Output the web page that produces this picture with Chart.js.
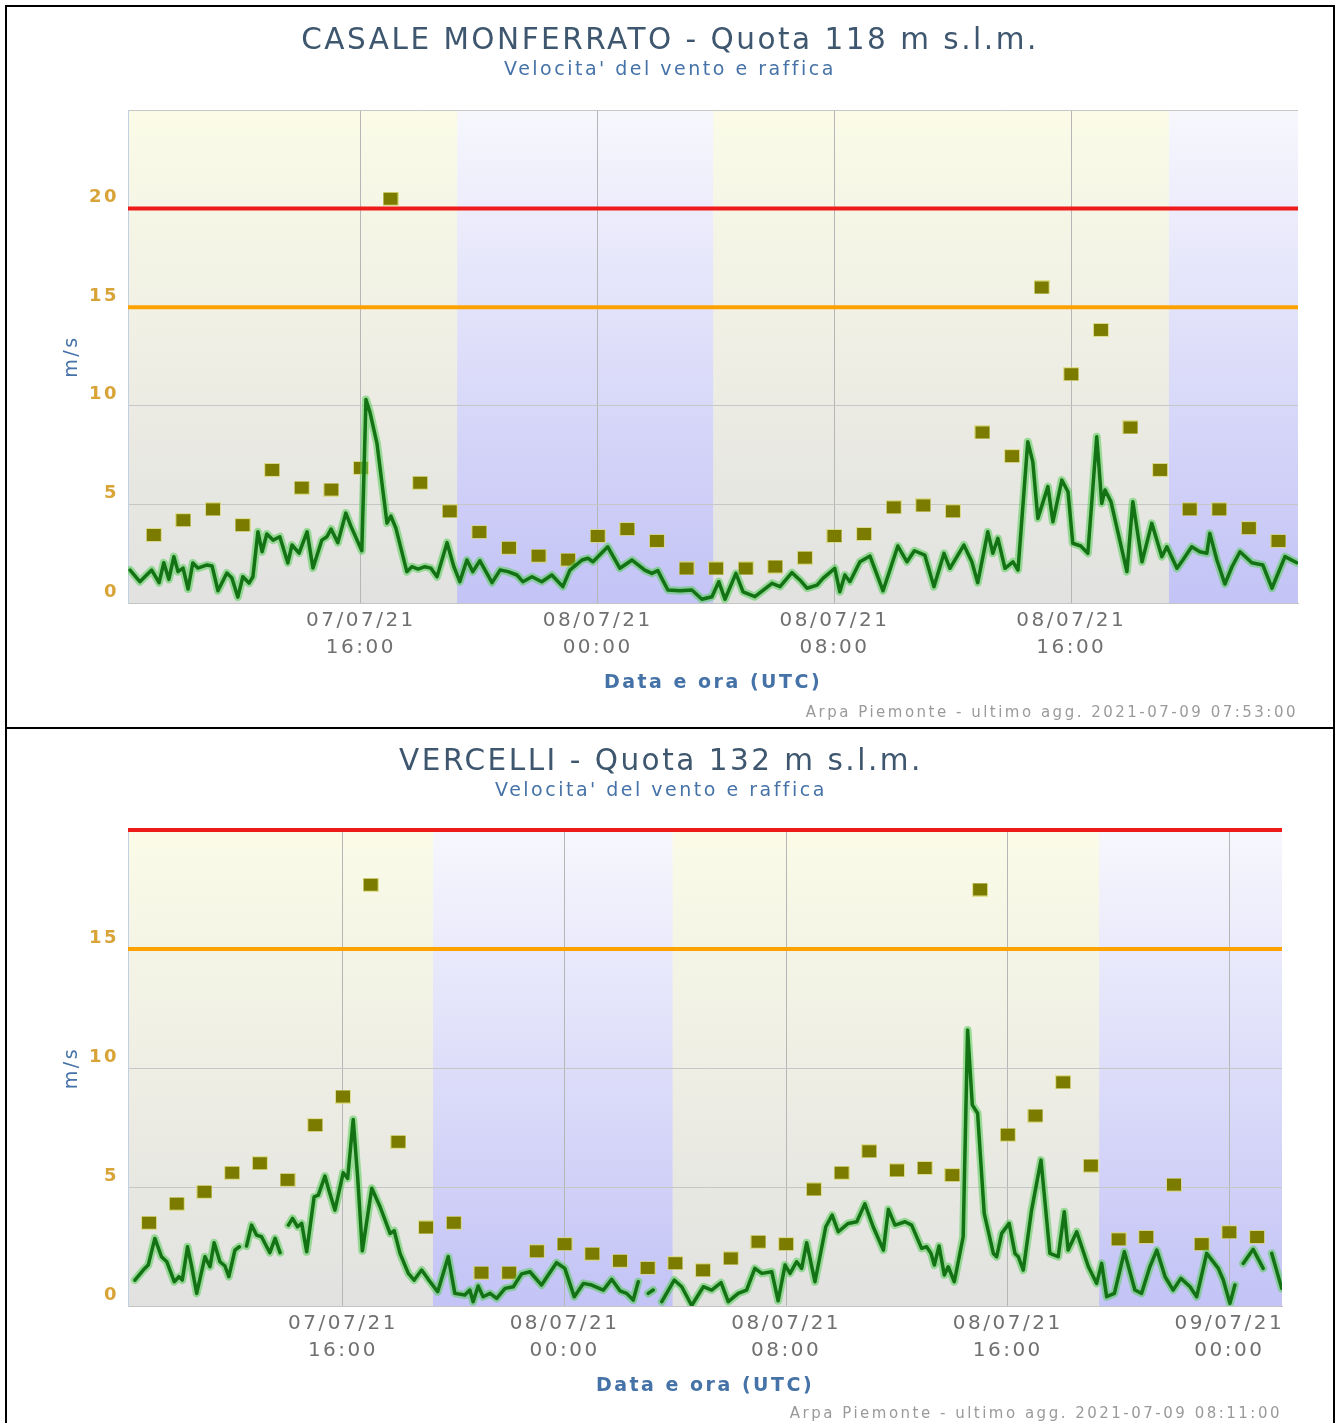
<!DOCTYPE html>
<html>
<head>
<meta charset="utf-8">
<title>Velocita' del vento e raffica</title>
<script src="https://cdn.jsdelivr.net/npm/chart.js@4.4.0/dist/chart.umd.min.js"></script>
<style>
  body { margin: 0; background: #fff; }
  #frame { position: absolute; left: 5px; top: 5px; width: 1326px; border: 2px solid #000; }
  .cell { position: relative; width: 1326px; height: 720px; }
  .cell + .cell { border-top: 2px solid #000; }
  canvas { display: block; }
</style>
</head>
<body>
<div id="frame">
  <div class="cell"><canvas id="casale" width="1326" height="720"></canvas></div>
  <div class="cell"><canvas id="vercelli" width="1326" height="720"></canvas></div>
</div>
<script>
// all times are hours counted from 07/07/21 00:00 UTC

// soglie (m/s): rossa e arancione
const thresholds = [20, 15];

// ---- CASALE MONFERRATO ----
const casaleGustHours = [9, 10, 11, 12, 13, 14, 15, 16, 17, 18, 19, 20, 21, 22, 23, 24, 25, 26, 27, 28,
  29, 30, 31, 32, 33, 34, 35, 36, 37, 38, 39, 40, 41, 42, 43, 44, 45, 46, 47];
const casaleGust = [3.45, 4.2, 4.75, 3.95, 6.75, 5.85, 5.75, 6.85, 20.5, 6.1, 4.65, 3.6, 2.8, 2.4, 2.2, 3.4, 3.75, 3.15, 1.75, 1.75,
  1.75, 1.85, 2.3, 3.4, 3.5, 4.85, 4.95, 4.65, 8.65, 7.45, 16.0, 11.6, 13.85, 8.9, 6.75, 4.75, 4.75, 3.8, 3.15];

const casaleWindHours = [8.20, 8.53, 8.93, 9.18, 9.34, 9.51, 9.68, 9.82, 9.99, 10.16, 10.32, 10.49, 10.80, 10.97, 11.17, 11.47,
  11.64, 11.84, 12.01, 12.22, 12.35, 12.52, 12.66, 12.82, 13.03, 13.26, 13.53, 13.67, 13.91, 14.18, 14.38, 14.68, 14.85,
  14.99, 15.22, 15.49, 15.66, 16.03, 16.17, 16.30, 16.54, 16.88, 17.01, 17.18, 17.55, 17.72, 17.93, 18.16, 18.36, 18.57,
  18.91, 19.14, 19.34, 19.58, 19.78, 20.02, 20.43, 20.70, 20.97, 21.27, 21.47, 21.78, 22.11, 22.45, 22.82, 23.06, 23.47,
  23.67, 23.84, 24.34, 24.75, 25.16, 25.59, 25.83, 26.03, 26.37, 26.78, 27.18, 27.52, 27.86, 28.09, 28.30, 28.67, 28.91,
  29.31, 29.89, 30.16, 30.56, 30.83, 31.07, 31.41, 31.61, 32.01, 32.18, 32.35, 32.52, 32.86, 33.20, 33.64, 34.14, 34.45,
  34.70, 35.05, 35.36, 35.70, 35.90, 36.37, 36.64, 36.84, 37.18, 37.35, 37.52, 37.76, 38.03, 38.20, 38.53, 38.70, 38.87,
  39.21, 39.38, 39.68, 39.89, 40.05, 40.32, 40.56, 40.86, 41.03, 41.14, 41.34, 41.88, 42.08, 42.39, 42.72, 43.06, 43.23,
  43.57, 43.77, 44.07, 44.34, 44.58, 44.68, 44.92, 45.19, 45.43, 45.70, 46.10, 46.47, 46.78, 47.22, 47.62];
const casaleWind = [1.67, 1.08, 1.67, 1.03, 2.04, 1.20, 2.35, 1.59, 1.77, 0.71, 2.03, 1.77, 1.93, 1.88, 0.62, 1.52,
  1.27, 0.30, 1.33, 1.01, 1.33, 3.61, 2.60, 3.50, 3.19, 3.36, 2.03, 2.94, 2.53, 3.61, 1.77, 3.19, 3.36,
  3.75, 3.06, 4.56, 3.90, 2.65, 10.32, 9.70, 8.11, 4.05, 4.41, 3.80, 1.59, 1.84, 1.72, 1.84, 1.77, 1.33,
  3.06, 1.84, 1.08, 2.18, 1.59, 2.14, 1.03, 1.67, 1.59, 1.42, 1.08, 1.33, 1.08, 1.42, 0.83, 1.67, 2.18,
  2.27, 2.09, 2.85, 1.76, 2.18, 1.67, 1.50, 1.64, 0.66, 0.62, 0.66, 0.19, 0.32, 1.08, 0.19, 1.50, 0.57,
  0.32, 1.00, 0.83, 1.54, 1.17, 0.75, 0.91, 1.25, 1.76, 0.57, 1.42, 1.08, 2.09, 2.38, 0.62, 2.89, 2.09,
  2.65, 2.43, 0.83, 2.52, 1.76, 2.94, 2.09, 1.03, 3.61, 2.52, 3.28, 1.76, 2.09, 1.67, 8.18, 7.16, 4.29,
  5.90, 4.12, 6.23, 5.64, 3.03, 2.89, 2.52, 8.43, 5.05, 5.73, 5.14, 1.59, 5.14, 2.09, 4.04, 2.35, 2.85,
  1.76, 2.18, 2.85, 2.60, 2.52, 3.53, 2.18, 0.96, 1.84, 2.60, 2.04, 1.93, 0.75, 2.35, 2.04];

const casaleNight = [[19.25, 27.9], [43.3, 48]];
const casaleXTicks = [16, 24, 32, 40];
const casaleXLabels = [['07/07/21', '16:00'], ['08/07/21', '00:00'], ['08/07/21', '08:00'], ['08/07/21', '16:00']];
const casaleYTicks = [0, 5, 10, 15, 20, 25];
const casaleYLabels = ['0', '5', '10', '15', '20', ''];

// ---- VERCELLI ----
const vercelliGustHours = [9, 10, 11, 12, 13, 14, 15, 16, 17, 18, 19, 20, 21, 22, 23, 24, 25, 26, 27, 28, 29,
  30, 31, 32, 33, 34, 35, 36, 37, 38, 39, 40, 41, 42, 43, 44, 45, 46, 47, 48, 49];
const vercelliGust = [3.5, 4.3, 4.8, 5.6, 6.0, 5.3, 7.6, 8.8, 17.7, 6.9, 3.3, 3.5, 1.4, 1.4, 2.3, 2.6, 2.2, 1.9, 1.6, 1.8, 1.5,
  2.0, 2.7, 2.6, 4.9, 5.6, 6.5, 5.7, 5.8, 5.5, 17.5, 7.2, 8.0, 9.4, 5.9, 2.8, 2.9, 5.1, 2.6, 3.1, 2.9];

// null = dato mancante (buco nella linea)
const vercelliWindHours = [8.49, 8.79, 8.97, 9.21, 9.45, 9.64, 9.91, 10.08, 10.20, 10.39, 10.54, 10.72, 11.02, 11.20,
  11.35, 11.56, 11.74, 11.88, 12.10, 12.26, 12.40, 12.52, 12.70, 12.88, 13.06, 13.36, 13.55, 13.73, 13.88, 14.03, 14.18,
  14.36, 14.51, 14.69, 14.96, 15.11, 15.35, 15.49, 15.71, 16.01, 16.17, 16.37, 16.53, 16.70, 17.04, 17.34, 17.70, 17.85,
  18.06, 18.36, 18.57, 18.84, 19.08, 19.42, 19.80, 20.04, 20.40, 20.58, 20.70, 20.88, 21.06, 21.31, 21.55, 21.85, 22.15,
  22.45, 22.75, 23.17, 23.41, 23.71, 24.01, 24.35, 24.68, 24.98, 25.40, 25.70, 26.00, 26.24, 26.48, 26.66, 26.85, 27.02,
  27.20, 27.35, 27.51, 27.96, 28.23, 28.59, 29.01, 29.31, 29.65, 29.91, 30.27, 30.57, 30.87, 31.12, 31.48, 31.71, 31.96,
  32.14, 32.38, 32.56, 32.74, 33.04, 33.43, 33.66, 33.88, 34.24, 34.55, 34.84, 35.14, 35.51, 35.69, 35.93, 36.29, 36.53,
  36.89, 37.07, 37.23, 37.35, 37.52, 37.71, 37.85, 38.07, 38.39, 38.55, 38.72, 38.91, 39.15, 39.48, 39.60, 39.78, 40.05,
  40.26, 40.38, 40.56, 40.86, 41.20, 41.52, 41.82, 42.04, 42.18, 42.49, 42.91, 43.21, 43.39, 43.57, 43.85, 44.21, 44.59,
  44.83, 45.13, 45.38, 45.68, 45.97, 46.25, 46.58, 46.82, 47.18, 47.60, 47.78, 48.02, 48.20, 48.35, 48.50, 48.86, 49.22,
  49.38, 49.53, 49.89];
const vercelliWind = [1.09, 1.51, 1.72, 2.84, 2.07, 1.86, 1.02, 1.23, 1.09, 2.49, 1.65, 0.53, 2.07, 1.65,
  2.66, 1.86, 1.68, 1.23, 2.35, 2.49, null, 2.52, 3.40, 2.98, 2.91, 2.24, 2.84, 2.24, null, 3.40, 3.68,
  3.33, 3.47, 2.28, 4.59, 4.66, 5.46, 4.87, 4.03, 5.60, 5.36, 7.84, 5.43, 2.32, 4.95, 4.17, 3.05, 3.16,
  2.21, 1.37, 1.09, 1.51, 1.12, 0.60, 2.07, 0.53, 0.46, 0.67, 0.18, 0.84, 0.39, 0.53, 0.32, 0.74, 0.81,
  1.35, 1.44, 0.88, 1.30, 1.82, 1.58, 0.39, 0.95, 0.88, 0.67, 1.12, 0.64, 0.53, 0.25, 1.02, null, 0.53,
  0.67, null, 0.18, 1.09, 0.81, 0.02, 0.81, 0.67, 0.98, 0.18, 0.53, 0.67, 1.58, 1.37, 1.44, 0.22, 1.72,
  1.37, 1.86, 1.58, 2.66, 1.02, 3.33, 3.82, 3.12, 3.47, 3.54, 4.29, 3.33, 2.35, 4.06, 3.40, 3.54, 3.40,
  2.42, 2.49, 2.21, 1.72, 2.52, 1.30, 1.65, 1.02, 2.91, 11.60, 8.45, 8.10, 3.89, 2.21, 2.07, 3.05, 3.47,
  2.21, 2.07, 1.51, 4.03, 6.13, 2.21, 2.07, 3.96, 2.35, 3.12, 1.65, 0.95, 1.79, 0.39, 0.53, 2.28, 0.67,
  0.53, 1.65, 2.35, 1.23, 0.67, 1.16, 0.81, 0.39, 2.21, 1.58, 1.09, 0.11, 0.88, null, 1.79, 2.38, 1.58,
  null, 2.21, 0.74];

const vercelliNight = [[19.25, 27.9], [43.3, 50]];
const vercelliXTicks = [16, 24, 32, 40, 48];
const vercelliXLabels = [['07/07/21', '16:00'], ['08/07/21', '00:00'], ['08/07/21', '08:00'], ['08/07/21', '16:00'], ['09/07/21', '00:00']];
const vercelliYTicks = [0, 5, 10, 15, 20];
const vercelliYLabels = ['0', '5', '10', '15', ''];

Chart.defaults.font.family = "'DejaVu Sans', Verdana, sans-serif";

// day/night background bands + wider letter spacing like the original
const bandsPlugin = {
  id: 'bands',
  beforeDraw(chart, args, opts) {
    const { ctx, chartArea: a, scales: { x } } = chart;
    ctx.letterSpacing = '2.5px';
    ctx.save();
    const day = ctx.createLinearGradient(0, a.top, 0, a.bottom);
    day.addColorStop(0, '#fbfbe8');
    day.addColorStop(1, '#e1e1e0');
    ctx.fillStyle = day;
    ctx.fillRect(a.left, a.top, a.width, a.height);
    const night = ctx.createLinearGradient(0, a.top, 0, a.bottom);
    night.addColorStop(0, '#f7f7fd');
    night.addColorStop(1, '#c3c3f6');
    ctx.fillStyle = night;
    opts.night.forEach(([from, to]) => {
      const x0 = Math.max(a.left, x.getPixelForValue(from));
      const x1 = Math.min(a.right, x.getPixelForValue(to));
      ctx.fillRect(x0, a.top, x1 - x0, a.height);
    });
    ctx.restore();
  }
};

const creditsPlugin = {
  id: 'credits',
  afterDraw(chart, args, opts) {
    const { ctx, chartArea } = chart;
    ctx.save();
    ctx.font = "15px 'DejaVu Sans'";
    ctx.fillStyle = '#9a9a9a';
    ctx.textAlign = 'right';
    ctx.textBaseline = 'middle';
    ctx.fillText(opts.text, chartArea.right, chartArea.bottom + opts.offset);
    ctx.restore();
  }
};

// raffica marker: slightly wide olive rectangle
function gustMarker() {
  const c = document.createElement('canvas');
  c.width = 16;
  c.height = 14;
  const g = c.getContext('2d');
  g.fillStyle = 'rgba(215,215,110,0.7)';
  g.fillRect(0, 0, 16, 14);
  g.fillStyle = '#7b7b00';
  g.fillRect(1, 1, 14, 12);
  return c;
}

function toPoints(xs, ys) {
  return xs.map((h, i) => ({ x: h, y: ys[i] }));
}

function buildChart(id, cfg) {
  const wind = toPoints(cfg.windHours, cfg.wind);
  const marker = gustMarker();
  return new Chart(document.getElementById(id), {
    type: 'line',
    data: {
      datasets: [
        { label: 'Velocita\' del vento', data: wind, borderColor: '#137213', borderWidth: 3.5,
          pointRadius: 0, borderJoinStyle: 'round', borderCapStyle: 'round', order: 1 },
        { label: 'alone', data: wind, borderColor: 'rgba(85,205,85,0.55)', borderWidth: 8,
          pointRadius: 0, borderJoinStyle: 'round', borderCapStyle: 'round', order: 2 },
        { label: 'Raffica', data: toPoints(cfg.gustHours, cfg.gust), showLine: false,
          pointStyle: marker, pointRadius: 8, order: 3 },
        { label: 'Soglia rossa', data: [{ x: cfg.xMin, y: thresholds[0] }, { x: cfg.xMax, y: thresholds[0] }],
          borderColor: '#ee1b1b', borderWidth: 4, pointRadius: 0, clip: 4, order: 4 },
        { label: 'Soglia arancione', data: [{ x: cfg.xMin, y: thresholds[1] }, { x: cfg.xMax, y: thresholds[1] }],
          borderColor: '#ffa200', borderWidth: 4, pointRadius: 0, clip: 4, order: 5 }
      ]
    },
    options: {
      responsive: false,
      animation: false,
      devicePixelRatio: 1,
      layout: { padding: { left: 0, right: cfg.padRight, top: 0, bottom: cfg.padBottom } },
      scales: {
        x: {
          type: 'linear',
          min: cfg.xMin,
          max: cfg.xMax,
          afterBuildTicks: s => { s.ticks = cfg.xTicks.map(v => ({ value: v })); },
          afterFit: s => { s.height = 91; },
          grid: { color: '#b6b6b6', drawTicks: false },
          border: { display: true, color: '#c4c4c4' },
          ticks: {
            autoSkip: false, maxRotation: 0, padding: 4, color: '#707070',
            font: { size: 20, lineHeight: 1.35 },
            callback: (v, i) => cfg.xLabels[i]
          },
          title: {
            display: true, text: 'Data e ora (UTC)', color: '#4572A7',
            font: { size: 19, weight: 'bold' }, padding: { top: 0, bottom: 0 }
          }
        },
        y: {
          min: 0,
          max: cfg.yMax,
          afterBuildTicks: s => { s.ticks = cfg.yTicks.map(v => ({ value: v })); },
          afterFit: s => { s.width = 121; },
          grid: { color: '#c6c6c6', drawTicks: false },
          border: { display: true, color: '#c0d0e0' },
          ticks: {
            padding: 9, labelOffset: -11, color: '#d9a437',
            font: { size: 18, weight: 'bold' },
            callback: (v, i) => cfg.yLabels[i]
          },
          title: {
            display: true, text: 'm/s', color: '#4572A7',
            font: { size: 19 }, padding: { top: 54, bottom: 0 }
          }
        },
        // empty right axis: keeps the plot short of the right edge while titles stay centred
        yr: {
          position: 'right',
          display: true,
          afterFit: s => { s.width = cfg.rightGap; },
          grid: { display: false, drawTicks: false },
          border: { display: false },
          ticks: { display: false }
        }
      },
      plugins: {
        legend: { display: false },
        tooltip: { enabled: false },
        title: {
          display: true, text: cfg.title, color: '#3E576F',
          font: { size: 29.5, weight: 'normal' }, padding: { top: cfg.titleTop, bottom: 0 }
        },
        subtitle: {
          display: true, text: "Velocita' del vento e raffica", color: '#4572A7',
          font: { size: 19 }, padding: { top: 0, bottom: cfg.subBottom }
        },
        bands: { night: cfg.night },
        credits: { text: cfg.credits, offset: cfg.creditsOffset }
      }
    },
    plugins: [bandsPlugin, creditsPlugin]
  });
}

buildChart('casale', {
  title: 'CASALE MONFERRATO - Quota 118 m s.l.m.',
  credits: 'Arpa Piemonte - ultimo agg. 2021-07-09 07:53:00',
  gustHours: casaleGustHours, gust: casaleGust,
  windHours: casaleWindHours, wind: casaleWind,
  night: casaleNight,
  xMin: 8.13, xMax: 47.66, xTicks: casaleXTicks, xLabels: casaleXLabels,
  yMax: 25, yTicks: casaleYTicks, yLabels: casaleYLabels,
  padRight: 0, rightGap: 35, padBottom: 33,
  titleTop: 16.3, subBottom: 28.5, creditsOffset: 110
});

buildChart('vercelli', {
  title: 'VERCELLI - Quota 132 m s.l.m.',
  credits: 'Arpa Piemonte - ultimo agg. 2021-07-09 08:11:00',
  gustHours: vercelliGustHours, gust: vercelliGust,
  windHours: vercelliWindHours, wind: vercelliWind,
  night: vercelliNight,
  xMin: 8.24, xMax: 49.9, xTicks: vercelliXTicks, xLabels: vercelliXLabels,
  yMax: 20, yTicks: vercelliYTicks, yLabels: vercelliYLabels,
  padRight: 18, rightGap: 33, padBottom: 52,
  titleTop: 15.3, subBottom: 27.5, creditsOffset: 108
});
</script>
</body>
</html>
